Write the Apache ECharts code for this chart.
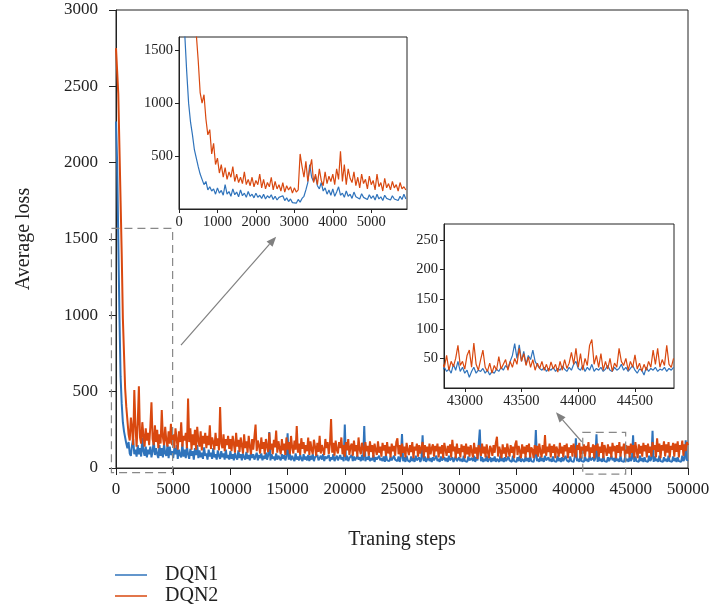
<!DOCTYPE html>
<html>
<head>
<meta charset="utf-8">
<script src="https://cdn.jsdelivr.net/npm/echarts@6/dist/echarts.min.js"></script>
<style>
  html, body { margin: 0; padding: 0; background: #fff; }
  #chart { width: 714px; height: 611px; }
</style>
</head>
<body>
<div id="chart"></div>
<script>
// main plot: one value every mainStep training steps (0..50000)
const mainStep = 100;
const dqn1Main = [
  2270, 2000, 1500, 1000, 600, 420, 300, 240, 200, 160,
  130, 170, 95, 80, 150, 190, 90, 120, 75, 150,
  90, 130, 75, 200, 110, 80, 140, 70, 120, 90,
  140, 70, 110, 180, 85, 130, 90, 65, 150, 80,
  130, 70, 160, 95, 80, 150, 65, 140, 85, 110,
  65, 130, 90, 150, 60, 120, 85, 70, 160, 75,
  120, 65, 140, 90, 60, 125, 80, 110, 55, 130,
  85, 150, 65, 115, 70, 100, 60, 135, 80, 95,
  55, 120, 75, 100, 60, 130, 70, 90, 55, 115,
  80, 60, 110, 70, 95, 55, 120, 65, 85, 55,
  110, 60, 90, 50, 100, 70, 55, 115, 65, 90,
  50, 95, 70, 55, 105, 60, 85, 50, 100, 65,
  90, 55, 75, 100, 50, 85, 65, 95, 50, 80,
  60, 100, 55, 80, 235, 50, 90, 60, 75, 50,
  95, 55, 80, 65, 50, 90, 60, 85, 50, 75,
  228, 55, 90, 50, 80, 60, 45, 95, 55, 75,
  50, 85, 60, 45, 90, 55, 75, 50, 85, 45,
  80, 55, 90, 45, 70, 60, 85, 50, 45, 80,
  55, 90, 45, 75, 60, 50, 85, 45, 70, 55,
  90, 45, 65, 80, 50, 45, 85, 55, 70, 45,
  285, 50, 80, 45, 65, 55, 85, 45, 75, 50,
  45, 80, 55, 70, 45, 85, 50, 275, 45, 70,
  55, 80, 45, 65, 50, 85, 40, 70, 55, 45,
  80, 50, 65, 45, 75, 40, 85, 50, 60, 45,
  75, 50, 40, 80, 55, 65, 45, 75, 40, 70,
  222, 45, 70, 40, 80, 50, 60, 40, 75, 45,
  65, 40, 80, 50, 45, 70, 40, 60, 215, 45,
  75, 40, 55, 80, 45, 65, 40, 70, 50, 40,
  80, 45, 60, 40, 75, 50, 40, 70, 45, 65,
  40, 80, 50, 45, 70, 40, 60, 75, 45, 40,
  70, 45, 60, 40, 80, 45, 55, 40, 75, 50,
  40, 65, 45, 80, 40, 70, 50, 40, 252, 45,
  70, 40, 60, 45, 80, 40, 55, 70, 40, 65,
  45, 75, 40, 60, 50, 40, 80, 45, 65, 40,
  70, 45, 40, 75, 50, 60, 40, 80, 45, 55,
  40, 70, 45, 80, 40, 60, 50, 40, 75, 45,
  65, 40, 80, 45, 55, 40, 70, 248, 45, 60,
  40, 75, 45, 65, 40, 80, 50, 40, 70, 45,
  60, 40, 75, 45, 55, 40, 80, 45, 65, 40,
  70, 45, 40, 80, 50, 60, 40, 75, 45, 55,
  40, 70, 195, 45, 60, 40, 80, 45, 55, 40,
  75, 45, 60, 40, 80, 50, 40, 70, 45, 65,
  220, 40, 75, 45, 60, 40, 80, 45, 55, 40,
  70, 45, 40, 80, 50, 65, 40, 75, 45, 60,
  40, 80, 45, 55, 40, 70, 45, 60, 40, 75,
  45, 60, 215, 40, 75, 45, 55, 40, 80, 45,
  65, 40, 70, 45, 55, 40, 80, 45, 60, 243,
  40, 75, 45, 60, 40, 80, 45, 55, 40, 70,
  45, 60, 40, 80, 45, 55, 40, 75, 45, 65,
  40, 70, 45, 55, 40, 80, 45, 60, 182, 50,
  55
];
const dqn2Main = [
  2750, 2600, 2450, 2100, 1750, 1400, 980, 750, 520, 400,
  310, 220, 180, 330, 260, 150, 510, 280, 140, 290,
  535, 200, 160, 300, 210, 140, 260, 180, 230, 150,
  270, 430, 190, 150, 280, 170, 250, 130, 220, 160,
  380, 200, 150, 270, 180, 140, 240, 160, 290, 150,
  220, 130, 260, 190, 120, 240, 170, 300, 140, 210,
  180, 230, 130, 455, 170, 260, 120, 220, 150, 250,
  120, 270, 180, 140, 240, 115, 210, 160, 230, 130,
  210, 150, 280, 125, 200, 170, 120, 230, 145, 195,
  115, 400, 160, 130, 220, 110, 190, 150, 210, 125,
  190, 110, 210, 160, 100, 230, 140, 185, 105, 200,
  150, 95, 220, 130, 175, 100, 210, 140, 90, 190,
  120, 205, 285, 110, 180, 145, 95, 200, 125, 170,
  90, 190, 140, 105, 230, 120, 160, 90, 185, 135,
  245, 100, 175, 130, 90, 190, 115, 160, 85, 200,
  120, 170, 90, 210, 135, 95, 180, 120, 275, 100,
  160, 85, 195, 125, 170, 95, 150, 110, 200, 85,
  175, 120, 90, 185, 140, 80, 165, 105, 210, 95,
  150, 120, 85, 190, 130, 170, 90, 155, 320, 100,
  165, 80, 180, 120, 95, 170, 130, 200, 90, 150,
  75, 170, 115, 190, 85, 140, 160, 80, 180, 110,
  150, 75, 200, 120, 90, 165, 130, 75, 170, 110,
  145, 80, 175, 105, 150, 70, 160, 120, 85, 175,
  100, 140, 75, 165, 115, 150, 80, 170, 95, 140,
  70, 160, 110, 145, 80, 170, 195, 90, 150, 75,
  160, 100, 140, 70, 165, 120, 85, 150, 105, 170,
  65, 140, 115, 160, 75, 150, 95, 135, 170, 70,
  150, 105, 140, 65, 160, 90, 130, 155, 75, 145,
  110, 160, 70, 140, 95, 150, 65, 165, 120, 80,
  145, 100, 155, 70, 185, 110, 140, 65, 160, 95,
  130, 70, 155, 105, 145, 65, 160, 90, 140, 75,
  150, 110, 70, 165, 95, 135, 60, 150, 120, 80,
  160, 95, 140, 70, 155, 105, 65, 145, 125, 80,
  150, 100, 165, 205, 75, 140, 110, 65, 155, 95,
  135, 70, 160, 115, 75, 150, 100, 140, 65, 155,
  180, 85, 145, 110, 65, 155, 95, 140, 70, 150,
  105, 160, 70, 135, 120, 65, 150, 90, 145, 75,
  160, 110, 70, 150, 95, 215, 80, 140, 105, 160,
  70, 145, 100, 155, 65, 140, 115, 75, 165, 95,
  140, 70, 150, 110, 160, 65, 135, 100, 150, 75,
  160, 105, 70, 150, 120, 165, 65, 140, 95, 155,
  75, 145, 110, 170, 70, 135, 100, 155, 65, 150,
  115, 160, 75, 140, 100, 170, 65, 150, 120, 80,
  155, 95, 140, 70, 165, 110, 145, 65, 150, 100,
  170, 75, 140, 115, 160, 70, 150, 95, 145, 70,
  160, 100, 150, 70, 170, 115, 65, 155, 95, 145,
  75, 165, 110, 150, 70, 160, 100, 140, 75, 170,
  120, 150, 70, 195, 105, 160, 65, 150, 115, 175,
  75, 155, 100, 170, 70, 145, 120, 165, 75, 160,
  105, 175, 70, 150, 120, 180, 80, 155, 110, 170,
  150
];

// upper inset: steps 0..5900
const zoom1Start = 0;
const zoom1Step = 50;
const dqn1Zoom1 = [
  2200, 2000, 1800, 1650, 1300, 1000, 820, 700, 560, 480, 400, 330, 280, 230, 260, 180, 210, 170, 190, 140,
  200, 150, 175, 130, 230, 140, 165, 120, 190, 135,
  160, 115, 180, 125, 150, 110, 165, 120, 140, 105,
  150, 110, 130, 100, 140, 95, 125, 105, 135, 90,
  120, 85, 110, 95, 125, 80, 105, 70, 95, 60,
  75, 55, 90, 65, 100, 120, 180, 250, 420, 300,
  260, 310, 220, 190, 250, 170, 200, 140, 180, 130,
  190, 120, 160, 210, 130, 150, 110, 170, 120, 140,
  100, 160, 115, 130, 95, 145, 110, 120, 90, 135,
  100, 125, 85, 140, 95, 115, 80, 130, 100, 110,
  85, 125, 95, 105, 80, 120, 90, 140, 95
];
const dqn2Zoom1 = [
  2750, 2700, 2600, 2500, 2300, 2100, 1900, 1750, 1700, 1650,
  1400, 1100, 1000, 1080, 850, 700, 750, 520, 620, 420,
  480, 340, 420, 300, 390, 280, 350, 300, 400, 260,
  330, 250, 300, 240, 350, 230, 280, 220, 300, 210,
  270, 230, 330, 200, 280, 190, 250, 210, 300, 180,
  260, 190, 230, 170, 250, 160, 220, 180, 210, 150,
  200, 160, 180, 520, 400, 300, 450, 260, 380, 470,
  250, 330, 230, 380, 270, 220, 350, 240, 310, 260,
  330, 230, 380, 280, 545, 260, 420, 230, 380, 290,
  250, 350, 220, 300, 200, 330, 240, 280, 190, 310,
  230, 270, 180, 330, 210, 250, 170, 290, 200, 240,
  180, 260, 200, 230, 170, 250, 190, 210, 180
];

// lower inset: steps 42800..44840
const zoom2Start = 42800;
const zoom2Step = 20;
const dqn1Zoom2 = [
  30, 35, 28, 32, 25, 40, 30, 45, 28, 35,
  25, 30, 18, 28, 35, 25, 30, 28, 33, 25,
  30, 22, 28, 25, 32, 28, 35, 30, 38, 33,
  45, 55, 75, 50, 73, 45, 62, 40, 55, 48,
  64, 45, 38, 33, 30, 35, 28, 33, 30, 35,
  28, 33, 30, 37, 32, 28, 35, 30, 40, 45,
  33, 30, 38, 28, 35, 30, 40, 28, 33, 30,
  35, 28, 32, 38, 30, 28, 35, 30, 33, 40,
  30, 35, 28, 33, 38, 30, 25, 32, 30, 22,
  35, 28, 33, 30, 35, 28, 32, 30, 35, 28,
  33, 30, 35
];
const dqn2Zoom2 = [
  42, 35, 55, 30, 45, 36, 50, 72, 38, 45,
  32, 55, 64, 35, 76, 40, 30, 48, 64, 35,
  28, 42, 25, 38, 30, 53, 32, 40, 48, 30,
  45, 35, 50, 40, 67, 45, 58, 38, 52, 35,
  48, 30, 42, 33, 45, 30, 40, 28, 44, 32,
  40, 27, 45, 30, 48, 33, 42, 60, 40, 67,
  35, 58, 30, 50, 38, 72, 82, 40, 55, 35,
  58, 30, 45, 32, 50, 28, 42, 35, 67, 45,
  38, 50, 30, 45, 35, 56, 32, 42, 28, 40,
  30, 45, 35, 64, 40, 67, 35, 48, 38, 72,
  40, 35, 50
];

// dashed boxes and arrows, in main-plot data units
const boxes = [[[-400, -30], [4950, 1570]], [[40800, -40], [44550, 234]]];
const arrows = [[[5680, 805], [14000, 1515]], [[40710, 172], [38460, 365]]];

const blue = '#2f73bb';
const orange = '#d9480f';
const font = '"Liberation Serif", "DejaVu Serif", serif';

function pairs(vals, start, step) {
  return vals.map((v, i) => [start + i * step, v]);
}

function labels(size, margin, showMin, showMax) {
  return {
    fontSize: size, fontFamily: font, color: '#222', margin: margin,
    showMinLabel: showMin, showMaxLabel: showMax,
    formatter: v => String(v)
  };
}

function axis(grid, tickLen, lab, extra) {
  return Object.assign({
    type: 'value',
    gridIndex: grid,
    splitLine: { show: false },
    axisLine: { show: true, onZero: false, lineStyle: { color: '#222', width: 1 } },
    axisTick: { show: true, inside: false, length: tickLen, lineStyle: { color: '#222', width: 1 } },
    axisLabel: lab
  }, extra);
}

function line(name, vals, start, step, idx, color, width) {
  return {
    name: name,
    type: 'line',
    xAxisIndex: idx,
    yAxisIndex: idx,
    data: pairs(vals, start, step),
    showSymbol: false,
    color: color,
    lineStyle: { width: width, color: color },
    animation: false
  };
}

const chart = echarts.init(document.getElementById('chart'));
chart.setOption({
  backgroundColor: '#fff',
  animation: false,
  grid: [
    { left: 116, top: 10, width: 572, height: 458, show: true, borderColor: '#222', borderWidth: 1 },
    { left: 179, top: 37, width: 228, height: 172, show: true, borderColor: '#222', borderWidth: 1, backgroundColor: '#fff' },
    { left: 444, top: 224, width: 230, height: 164, show: true, borderColor: '#222', borderWidth: 1, backgroundColor: '#fff' }
  ],
  legend: {
    left: 115, top: 565, orient: 'vertical', padding: 0, itemGap: 1,
    icon: 'rect', itemWidth: 32, itemHeight: 1.5,
    data: ['DQN1', 'DQN2'],
    textStyle: { fontSize: 20, fontFamily: font, color: '#222', lineHeight: 20, padding: [0, 0, 0, 13] }
  },
  xAxis: [
    axis(0, 7, labels(17, 13, true, true), {
      min: 0, max: 50000, interval: 5000,
      name: 'Traning steps', nameLocation: 'middle', nameGap: 62,
      nameTextStyle: { fontSize: 20, fontFamily: font, color: '#222' }
    }),
    axis(1, 4, labels(14.5, 6, true, false), { min: 0, max: 5930, interval: 1000 }),
    axis(2, 4, labels(14.5, 6, false, false), { min: 42817, max: 44844, splitNumber: 4 })
  ],
  yAxis: [
    axis(0, 7, labels(17, 18, true, true), {
      min: 0, max: 3000, interval: 500,
      name: 'Average loss', nameLocation: 'middle', nameGap: 82,
      nameTextStyle: { fontSize: 20, fontFamily: font, color: '#222' }
    }),
    axis(1, 4, labels(14.5, 6, false, false), { min: 0, max: 1625, interval: 500 }),
    axis(2, 4, labels(14.5, 6, false, false), { min: 0, max: 277, interval: 50 })
  ],
  series: [
    line('DQN1', dqn1Main, 0, mainStep, 0, blue, 2),
    line('DQN2', dqn2Main, 0, mainStep, 0, orange, 2),
    line('DQN1', dqn1Zoom1, zoom1Start, zoom1Step, 1, blue, 1.2),
    line('DQN2', dqn2Zoom1, zoom1Start, zoom1Step, 1, orange, 1.2),
    line('DQN1', dqn1Zoom2, zoom2Start, zoom2Step, 2, blue, 1.2),
    line('DQN2', dqn2Zoom2, zoom2Start, zoom2Step, 2, orange, 1.2)
  ]
});

// annotations: dashed zoom boxes and arrows to the insets
const toPx = p => chart.convertToPixel({ gridIndex: 0 }, p);
const gfx = [];
boxes.forEach(b => {
  const a = toPx(b[0]), c = toPx(b[1]);
  gfx.push({
    type: 'rect', z: 20,
    shape: { x: Math.min(a[0], c[0]), y: Math.min(a[1], c[1]), width: Math.abs(c[0] - a[0]), height: Math.abs(c[1] - a[1]) },
    style: { fill: 'none', stroke: '#888', lineWidth: 1.2, lineDash: [8, 5] }
  });
});
arrows.forEach(ar => {
  const p0 = toPx(ar[0]), p1 = toPx(ar[1]);
  const dx = p1[0] - p0[0], dy = p1[1] - p0[1];
  const len = Math.sqrt(dx * dx + dy * dy);
  const ux = dx / len, uy = dy / len;
  const hl = 10, hw = 4;
  const bx = p1[0] - ux * hl, by = p1[1] - uy * hl;
  gfx.push({
    type: 'line', z: 20,
    shape: { x1: p0[0], y1: p0[1], x2: bx, y2: by },
    style: { stroke: '#808080', lineWidth: 1.2 }
  });
  gfx.push({
    type: 'polygon', z: 20,
    shape: { points: [[p1[0], p1[1]], [bx - uy * hw, by + ux * hw], [bx + uy * hw, by - ux * hw]] },
    style: { fill: '#808080' }
  });
});
chart.setOption({ graphic: gfx });
</script>
</body>
</html>
